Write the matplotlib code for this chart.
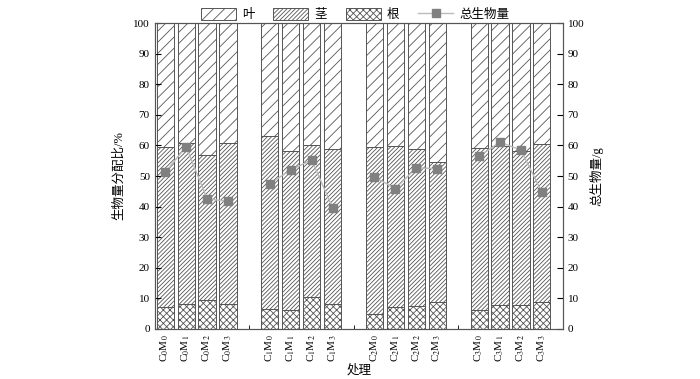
import numpy as np
import matplotlib
matplotlib.use('Agg')
import matplotlib.pyplot as plt

plt.rcParams['font.family'] = ['Liberation Serif', 'Noto Sans CJK SC']
plt.rcParams['mathtext.fontset'] = 'stix'
plt.rcParams['hatch.color'] = '#444444'
plt.rcParams['hatch.linewidth'] = 0.6
plt.rcParams['axes.unicode_minus'] = False

labels = ['C$_0$M$_0$', 'C$_0$M$_1$', 'C$_0$M$_2$', 'C$_0$M$_3$',
          'C$_1$M$_0$', 'C$_1$M$_1$', 'C$_1$M$_2$', 'C$_1$M$_3$',
          'C$_2$M$_0$', 'C$_2$M$_1$', 'C$_2$M$_2$', 'C$_2$M$_3$',
          'C$_3$M$_0$', 'C$_3$M$_1$', 'C$_3$M$_2$', 'C$_3$M$_3$']
# root share (%)
root = [7.1, 8.1, 9.4, 8.1,
        6.4, 6.2, 10.6, 8.3,
        5.0, 7.1, 7.4, 8.7,
        6.2, 7.7, 8.0, 8.7]
# cumulative top of stem (root + stem, %)
stem_top = [59.6, 60.7, 56.9, 60.7,
            63.1, 58.1, 60.1, 58.8,
            59.4, 59.8, 58.7, 54.5,
            59.3, 59.8, 58.3, 60.4]
# total biomass (g)
total = [51.2, 59.6, 42.6, 41.7,
         47.5, 52.0, 55.3, 39.6,
         49.7, 45.9, 52.7, 52.4,
         56.5, 61.1, 58.5, 44.7]

root = np.array(root)
stem = np.array(stem_top) - root
leaf = 100 - np.array(stem_top)

pos = np.array([g * 5 + i for g in range(4) for i in range(4)])

fig = plt.figure(figsize=(7, 3.79), dpi=100)
ax = fig.add_axes([0.221, 0.132, 0.583, 0.807])

ec = '#555555'
w = 0.82
b1 = ax.bar(pos, root, w, color='white', edgecolor=ec, hatch='xxxxx', linewidth=0.7, label='根')
b2 = ax.bar(pos, stem, w, bottom=root, color='white', edgecolor=ec, hatch='////////', linewidth=0.7, label='茎')
b3 = ax.bar(pos, leaf, w, bottom=root + stem, color='white', edgecolor=ec, hatch='///', linewidth=0.7, label='叶')

ax.set_xlim(-0.5, 19)
ax.set_ylim(0, 100)
ax.set_yticks(range(0, 101, 10))
ax.set_xticks(pos)
ax.set_xticklabels(labels, rotation=90, fontsize=8)
ax.set_xticks([4, 9, 14], minor=True)
ax.tick_params(axis='x', which='major', length=0, pad=4)
ax.tick_params(axis='x', which='minor', direction='in', length=3)
ax.tick_params(axis='y', direction='in', length=4, labelsize=8)
ax.set_ylabel('生物量分配比/%', fontsize=9, labelpad=6)
ax.set_xlabel('处理', fontsize=9)
ax.xaxis.set_label_coords(0.5, -0.115)
for s in ax.spines.values():
    s.set_color('#555555')

ax2 = ax.twinx()
ax2.set_ylim(0, 100)
ax2.set_yticks(range(0, 101, 10))
ax2.tick_params(axis='y', direction='in', length=4, labelsize=8)
ax2.set_ylabel('总生物量/g', fontsize=9)
for s in ax2.spines.values():
    s.set_color('#555555')

line = None
for g in range(4):
    sl = slice(g * 4, g * 4 + 4)
    line, = ax2.plot(pos[sl], total[sl], color='#bbbbbb', linewidth=1,
                     marker='s', markersize=6, markerfacecolor='#808080',
                     markeredgecolor='#808080', label='总生物量')

fig.legend([b3, b2, b1, line], ['叶', '茎', '根', '总生物量'], ncol=4,
           loc='upper center', bbox_to_anchor=(0.507, 1.0), frameon=False,
           fontsize=9, handlelength=2.8, handleheight=1.1, handletextpad=0.5,
           columnspacing=1.5, borderpad=0.15)

fig.savefig('out.png', dpi=100)
